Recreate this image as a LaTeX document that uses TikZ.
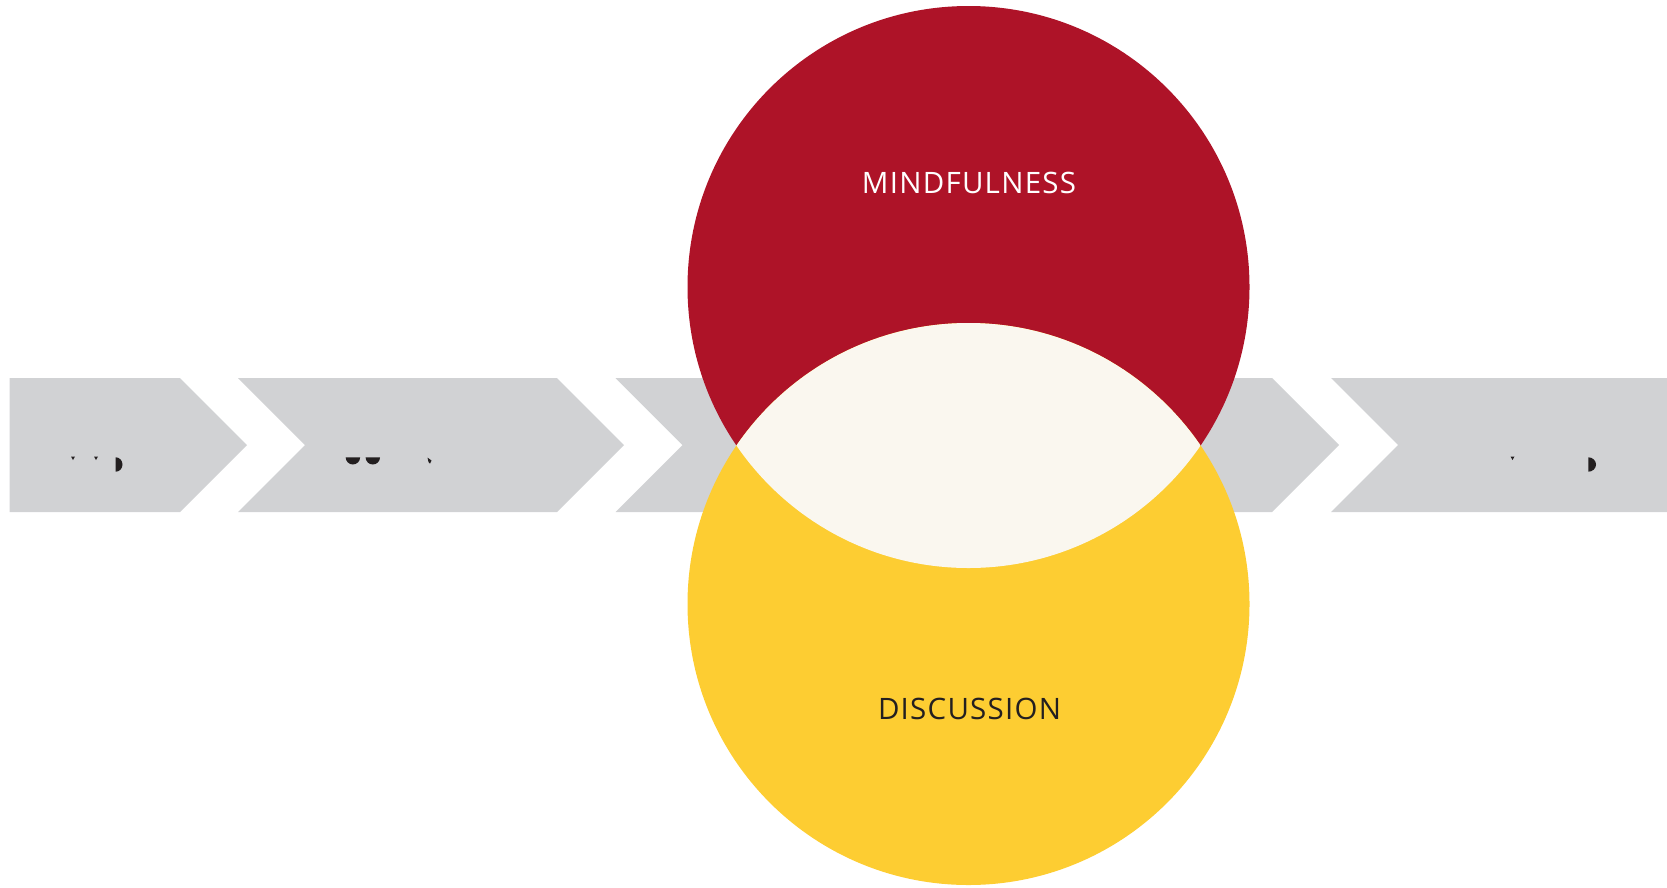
\documentclass[tikz,border=0pt]{standalone}
\usepackage{fontspec}
\setmainfont{Open Sans}
\newfontfamily\lblfont[LetterSpace=4.2]{Open Sans}
\definecolor{mred}{HTML}{AE1328}
\definecolor{myel}{HTML}{FDCD32}
\definecolor{mgrey}{HTML}{D1D2D4}
\definecolor{mcream}{HTML}{FAF7EF}
\definecolor{mink}{HTML}{231F20}
\tikzset{
  chev/.style={fill=mgrey, draw=none},
  bigc/.style={circle, inner sep=0pt, minimum size=562pt, draw=none},
  lbl/.style={font=\lblfont\fontsize{29.5}{32}\selectfont, inner sep=0pt, anchor=center},
  frag/.style={fill=mink, draw=none}
}
\begin{document}
\begin{tikzpicture}[x=1pt,y=-1pt]
\useasboundingbox (0,0) rectangle (1667,887);
% chevrons
\fill[chev] (9.6,378) -- (180,378) -- (247,445) -- (180,512) -- (9.6,512) -- cycle;
\fill[chev] (238,378) -- (557,378) -- (624,445) -- (557,512) -- (238,512) -- (305,445) -- cycle;
\fill[chev] (615.5,378) -- (1272,378) -- (1339,445) -- (1272,512) -- (615.5,512) -- (682.5,445) -- cycle;
\fill[chev] (1331,378) -- (1667,378) -- (1667,512) -- (1331,512) -- (1398,445) -- cycle;
% text fragments
\fill[frag] (71,456.5) -- (75,456.5) -- (73,460) -- cycle;
\fill[frag] (94,456.5) -- (98,456.5) -- (96,460) -- cycle;
\fill[frag] (115.7,457.3) arc[start angle=90, end angle=-90, x radius=6.8pt, y radius=7.2pt] -- cycle;
\fill[frag] (345.7,457.3) arc[start angle=180, end angle=360, radius=7.2pt] -- cycle;
\fill[frag] (365.6,457.3) arc[start angle=180, end angle=360, radius=7.2pt] -- cycle;
\fill[frag] (427.5,457.5) -- (431.5,460.5) -- (430,463.5) -- (428.5,462) -- cycle;
\fill[frag] (922.7,456) arc[start angle=180, end angle=360, radius=7.5pt] -- cycle;
\fill[frag] (942.7,456) arc[start angle=180, end angle=360, radius=7.3pt] -- cycle;
\fill[frag] (1005,458.5) -- (1009,461.5) -- (1007.5,464.5) -- (1006,463) -- cycle;
\fill[frag] (1510.5,456.5) -- (1514.5,456.5) -- (1512.5,460) -- cycle;
\fill[frag] (1588.3,457.3) arc[start angle=90, end angle=-90, x radius=7.7pt, y radius=7.2pt] -- cycle;
% circles
\node[bigc, fill=mred] (mindc) at (968.5,287) {};
\node[bigc, fill=myel] (discc) at (968.5,604) {};
\begin{scope}
  \clip (968.5,287) circle[radius=281pt];
  \fill[mcream] (968.5,604) circle[radius=281pt];
\end{scope}
% labels
\node[lbl, text=white] (mind) at (969,182.5) {MINDFULNESS};
\node[lbl, text=mink] (disc) at (969.5,709) {DISCUSSION};
\end{tikzpicture}
\end{document}
